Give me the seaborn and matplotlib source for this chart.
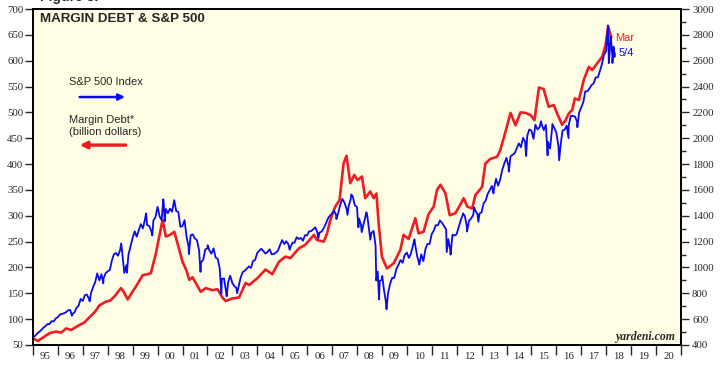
import numpy as np
import pandas as pd
import matplotlib
matplotlib.use('Agg')
import matplotlib.pyplot as plt
from matplotlib.ticker import MultipleLocator, FixedLocator, FixedFormatter, NullFormatter
import seaborn as sns

# S&P 500 month-end closes, Dec 1994 .. Apr 2018
sp_monthly = [
    459.3,
    470.4, 487.4, 500.7, 514.7, 533.4, 544.8, 562.1, 561.9, 584.4, 581.5, 605.4, 615.9,
    636.0, 640.4, 645.5, 654.2, 669.1, 670.6, 639.9, 652.0, 687.3, 705.3, 757.0, 740.7,
    786.2, 790.8, 757.1, 801.3, 848.3, 885.1, 954.3, 899.5, 947.3, 914.6, 955.4, 970.4,
    980.3, 1049.3, 1101.8, 1111.8, 1090.8, 1133.8, 1120.7, 957.3, 1017.0, 1098.7, 1163.6, 1229.2,
    1279.6, 1238.3, 1286.4, 1335.2, 1301.8, 1372.7, 1328.7, 1320.4, 1282.7, 1362.9, 1388.9, 1469.3,
    1394.5, 1366.4, 1498.6, 1452.4, 1420.6, 1454.6, 1430.8, 1517.7, 1436.5, 1429.4, 1315.2, 1320.3,
    1366.0, 1239.9, 1160.3, 1249.5, 1255.8, 1224.4, 1211.2, 1133.6, 1040.9, 1059.8, 1139.5, 1148.1,
    1130.2, 1106.7, 1147.4, 1076.9, 1067.1, 989.8, 911.6, 916.1, 815.3, 885.8, 936.3, 879.8,
    855.7, 841.2, 848.2, 916.9, 963.6, 974.5, 990.3, 1008.0, 996.0, 1050.7, 1058.2, 1111.9,
    1131.1, 1144.9, 1126.2, 1107.3, 1120.7, 1140.8, 1101.7, 1104.2, 1114.6, 1130.2, 1173.8, 1211.9,
    1181.3, 1203.6, 1180.6, 1156.9, 1191.5, 1191.3, 1234.2, 1220.3, 1228.8, 1207.0, 1249.5, 1248.3,
    1280.1, 1280.7, 1294.9, 1310.6, 1270.1, 1270.2, 1276.7, 1303.8, 1335.9, 1377.9, 1400.6, 1418.3,
    1438.2, 1406.8, 1420.9, 1482.4, 1530.6, 1503.4, 1455.3, 1474.0, 1526.8, 1549.4, 1481.1, 1468.4,
    1378.6, 1330.6, 1322.7, 1385.6, 1400.4, 1280.0, 1267.4, 1282.8, 1166.4, 968.8, 896.2, 903.3,
    825.9, 735.1, 797.9, 872.8, 919.1, 919.3, 987.5, 1020.6, 1057.1, 1036.2, 1095.6, 1115.1,
    1073.9, 1104.5, 1169.4, 1186.7, 1089.4, 1030.7, 1101.6, 1049.3, 1141.2, 1183.3, 1180.6, 1257.6,
    1286.1, 1327.2, 1325.8, 1363.6, 1345.2, 1320.6, 1292.3, 1218.9, 1131.4, 1253.3, 1247.0, 1257.6,
    1312.4, 1365.7, 1408.5, 1397.9, 1310.3, 1362.2, 1379.3, 1406.6, 1440.7, 1412.2, 1416.2, 1426.2,
    1498.1, 1514.7, 1569.2, 1597.6, 1630.7, 1606.3, 1685.7, 1633.0, 1681.6, 1756.5, 1805.8, 1848.4,
    1782.6, 1859.5, 1872.3, 1884.0, 1923.6, 1960.2, 1930.7, 2003.4, 1972.3, 2018.1, 2067.6, 2058.9,
    1995.0, 2104.5, 2067.9, 2085.5, 2107.4, 2063.1, 2103.8, 1972.2, 1920.0, 2079.4, 2080.4, 2043.9,
    1940.2, 1932.2, 2059.7, 2065.3, 2097.0, 2098.9, 2173.6, 2171.0, 2168.3, 2126.2, 2198.8, 2238.8,
    2278.9, 2363.6, 2362.7, 2384.2, 2411.8, 2423.4, 2470.3, 2471.7, 2519.4, 2575.3, 2647.6, 2673.6,
    2823.8, 2713.8, 2640.9, 2648.1,
]

# intra-month swings visible on the chart
sp_swing_dates = [
    '1996-07-24', '1997-04-11', '1997-10-27', '1998-07-17', '1998-10-08',
    '1999-07-16', '1999-10-15', '2000-03-24', '2000-04-14', '2000-09-01',
    '2001-04-04', '2001-09-21', '2002-01-04', '2002-07-23', '2002-10-09',
    '2003-03-11', '2005-04-20', '2006-06-13', '2007-03-05', '2007-08-15',
    '2007-10-09', '2008-01-22', '2008-03-10', '2008-05-19', '2008-07-15',
    '2008-10-10', '2008-11-20', '2009-01-06', '2009-03-09', '2010-04-23',
    '2010-07-02', '2011-04-29', '2011-08-08', '2011-10-03', '2012-04-02',
    '2012-06-01', '2012-09-14', '2012-11-15', '2013-06-24', '2014-02-03',
    '2014-10-15', '2015-05-21', '2015-08-25', '2015-11-03', '2016-02-11',
    '2016-06-27', '2016-11-04', '2018-01-26', '2018-02-08', '2018-03-09',
    '2018-04-02', '2018-04-18', '2018-05-03', '2018-05-04',
]
sp_swing_values = [
    626.7, 737.7, 877.0, 1186.8, 959.4,
    1418.8, 1247.4, 1527.5, 1356.6, 1520.8,
    1103.3, 965.8, 1172.5, 797.7, 776.8,
    800.7, 1137.5, 1223.7, 1374.1, 1406.7,
    1565.2, 1310.5, 1273.4, 1426.6, 1214.9,
    899.2, 752.4, 934.7, 676.5, 1217.3,
    1022.6, 1363.6, 1119.5, 1099.2, 1419.0,
    1278.0, 1465.8, 1353.3, 1573.1, 1741.9,
    1862.5, 2130.8, 1867.6, 2109.8, 1829.1,
    2000.5, 2085.2, 2872.9, 2581.0, 2786.6,
    2581.9, 2708.6, 2629.7, 2663.4,
]

# margin debt, billion dollars
margin_t = [
    1995.00, 1995.20, 1995.45, 1995.67, 1995.93, 1996.13, 1996.33, 1996.53, 1996.87,
    1997.05, 1997.27, 1997.50, 1997.67, 1997.93, 1998.10, 1998.27, 1998.53, 1998.65,
    1998.80, 1998.95, 1999.13, 1999.40, 1999.60, 1999.73, 1999.93, 2000.20, 2000.33,
    2000.50, 2000.67, 2000.87, 2001.00, 2001.15, 2001.27, 2001.40, 2001.73, 2001.93,
    2002.20, 2002.40, 2002.60, 2002.73, 2003.00, 2003.27, 2003.53, 2003.67, 2004.00,
    2004.33, 2004.60, 2004.87, 2005.13, 2005.33, 2005.67, 2005.93, 2006.27, 2006.40,
    2006.67, 2006.80, 2006.93, 2007.13, 2007.30, 2007.46, 2007.58, 2007.73, 2007.89,
    2008.02, 2008.20, 2008.33, 2008.53, 2008.67, 2008.78, 2008.87, 2009.00, 2009.20,
    2009.47, 2009.74, 2009.87, 2010.07, 2010.34, 2010.47, 2010.67, 2010.87, 2011.08,
    2011.21, 2011.35, 2011.55, 2011.72, 2011.95, 2012.15, 2012.28, 2012.42, 2012.62,
    2012.75, 2013.02, 2013.15, 2013.35, 2013.62, 2013.75, 2013.96, 2014.16, 2014.36,
    2014.56, 2014.76, 2014.96, 2015.12, 2015.30, 2015.49, 2015.69, 2015.90, 2016.03,
    2016.23, 2016.37, 2016.50, 2016.64, 2016.74, 2016.90, 2016.97, 2017.10, 2017.30,
    2017.44, 2017.64, 2017.84, 2017.97, 2018.08, 2018.20,
]
margin_v = [
    63, 58, 66, 73, 76, 74, 82, 79, 89,
    93, 104, 115, 127, 134, 136, 144, 160, 152,
    138, 150, 163, 185, 187, 189, 227, 292, 260,
    263, 269, 234, 211, 195, 176, 181, 153, 160,
    156, 158, 142, 135, 140, 142, 170, 166, 179,
    196, 187, 211, 221, 218, 237, 244, 263, 253,
    250, 266, 292, 318, 330, 401, 416, 363, 379,
    369, 376, 334, 347, 334, 343, 285, 221, 198,
    208, 234, 263, 255, 295, 266, 269, 303, 318,
    350, 360, 343, 301, 305, 322, 334, 318, 314,
    340, 356, 401, 410, 414, 427, 463, 499, 475,
    500, 499, 495, 485, 548, 545, 511, 514, 498,
    476, 485, 498, 505, 527, 524, 537, 563, 588,
    582, 595, 608, 630, 666, 645,
]

years = list(range(1995, 2021))
year_labels = [f"{y % 100:02d}" for y in years]


def dec_year(d):
    d = pd.to_datetime(d)
    return d.year + (d.dayofyear - 1) / (366 if d.is_leap_year else 365)


monthly_dates = pd.date_range('1994-12-31', periods=len(sp_monthly), freq='ME')
sp = pd.DataFrame({
    't': [dec_year(d) for d in monthly_dates] + [dec_year(d) for d in sp_swing_dates],
    'v': sp_monthly + sp_swing_values,
}).sort_values('t')
margin = pd.DataFrame({'t': margin_t, 'v': margin_v})

RED = '#ee1c24'
BLUE = '#0a0af0'
SERIF = ['Liberation Serif', 'DejaVu Serif']
SANS = ['Liberation Sans', 'DejaVu Sans']

sns.set_style('ticks')
plt.rcParams['font.family'] = SANS

fig = plt.figure(figsize=(7.21, 3.76), dpi=100)
ax = fig.add_axes([33 / 721, 31 / 376, 648 / 721, 336 / 376])
ax.set_facecolor('#fffde3')
ax2 = ax.twinx()

sns.lineplot(data=margin, x='t', y='v', ax=ax, color=RED, lw=1.9, sort=False)
sns.lineplot(data=sp, x='t', y='v', ax=ax2, color=BLUE, lw=1.3, sort=False)

ax.set_xlim(1995, 2021)
ax.set_ylim(50, 700)
ax2.set_ylim(400, 3000)
for a in (ax, ax2):
    a.set_xlabel('')
    a.set_ylabel('')
    for s in a.spines.values():
        s.set_linewidth(1.3)
        s.set_color('black')
        s.set_visible(True)

# left axis
ax.yaxis.set_major_locator(MultipleLocator(50))
ax.tick_params(axis='y', which='major', length=6, width=1.0, pad=1, labelsize=7.8)
for lab in ax.get_yticklabels():
    lab.set_family(SERIF)

# right axis
ax2.yaxis.set_major_locator(MultipleLocator(200))
ax2.yaxis.set_minor_locator(MultipleLocator(100))
ax2.tick_params(axis='y', which='major', length=6, width=1.0, pad=2, labelsize=7.8)
ax2.tick_params(axis='y', which='minor', length=3.5, width=1.0)
for lab in ax2.get_yticklabels():
    lab.set_family(SERIF)

# years: ticks at boundaries, labels centred
ax.xaxis.set_major_locator(FixedLocator(years + [2021]))
ax.xaxis.set_major_formatter(NullFormatter())
ax.xaxis.set_minor_locator(FixedLocator([y + 0.5 for y in years]))
ax.xaxis.set_minor_formatter(FixedFormatter(year_labels))
ax.tick_params(axis='x', which='major', length=7, width=1.0)
ax.tick_params(axis='x', which='minor', length=0, pad=5, labelsize=7.8)
for lab in ax.get_xticklabels(minor=True):
    lab.set_family(SERIF)

ax.text(0.011, 0.970, 'MARGIN DEBT & S&P 500', transform=ax.transAxes,
        fontsize=9.6, fontweight='bold', va='center', ha='left')

ax.text(0.0556, 0.783, 'S&P 500 Index', transform=ax.transAxes,
        fontsize=8, va='center', ha='left')
ax.annotate('', xy=(0.142, 0.738), xytext=(0.072, 0.738), xycoords='axes fraction',
            arrowprops=dict(arrowstyle='-|>', color=BLUE, lw=1.8, mutation_scale=9,
                            shrinkA=0, shrinkB=0))
ax.text(0.0556, 0.670, 'Margin Debt*', transform=ax.transAxes,
        fontsize=8, va='center', ha='left')
ax.text(0.0556, 0.634, '(billion dollars)', transform=ax.transAxes,
        fontsize=8, va='center', ha='left')
ax.annotate('', xy=(0.072, 0.595), xytext=(0.143, 0.595), xycoords='axes fraction',
            arrowprops=dict(arrowstyle='-|>', color=RED, lw=2.4, mutation_scale=10,
                            shrinkA=0, shrinkB=0))

ax.text(0.898, 0.914, 'Mar', transform=ax.transAxes, color=RED,
        fontsize=8, va='center', ha='left')
ax.text(0.903, 0.869, '5/4', transform=ax.transAxes, color=BLUE,
        fontsize=8, va='center', ha='left')

ax.text(0.991, 0.024, 'yardeni.com', transform=ax.transAxes, family=SERIF,
        fontsize=8.5, fontweight='bold', fontstyle='italic', va='center', ha='right')

# the page caption sits above the crop in the original; only its lower edge shows
fig.text(40 / 721, 1 - 1.5 / 376, 'Figure 8.', fontsize=10, fontweight='bold',
         va='baseline', ha='left')

fig.savefig('out.png', dpi=100, facecolor='white')
